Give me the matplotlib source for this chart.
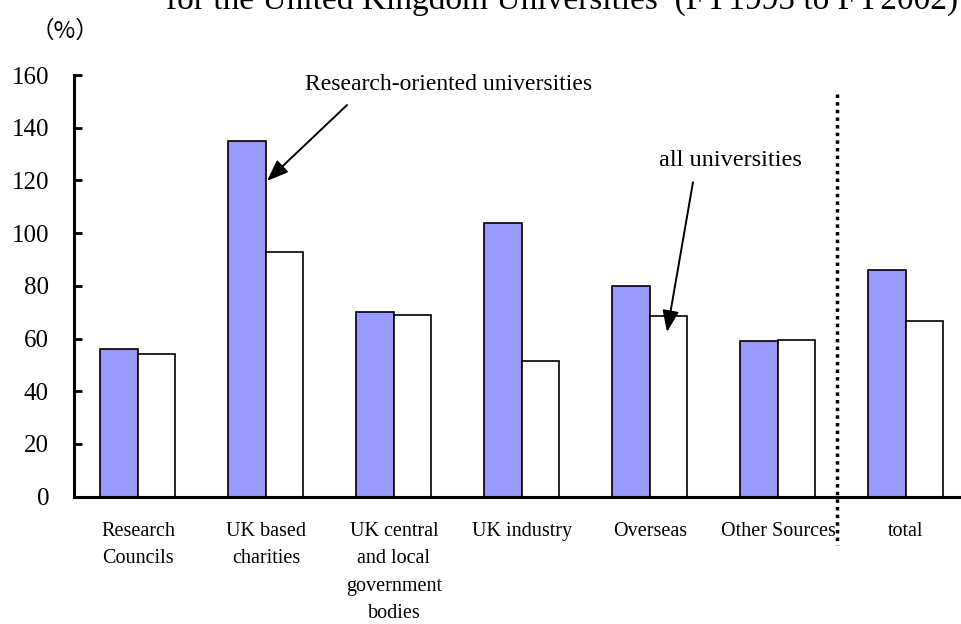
import numpy as np
import matplotlib.pyplot as plt
from matplotlib.transforms import blended_transform_factory

plt.rcParams['font.family'] = ['Liberation Serif', 'DejaVu Serif']

categories = ['Research\nCouncils', 'UK based\ncharities',
              'UK central\nand local\ngovernment\nbodies',
              'UK industry', 'Overseas', 'Other Sources', 'total']
research_oriented = [56, 135, 70, 104, 80, 59, 86]
all_universities = [54, 93, 69, 51.5, 68.5, 59.5, 66.5]

x = np.arange(len(categories))
w = 0.293

fig = plt.figure(figsize=(9.61, 6.24), dpi=100)
ax = fig.add_axes([74 / 961, 1 - 496.7 / 624, 1 - 74 / 961, (496.7 - 75) / 624])

ax.bar(x - w / 2, research_oriented, w, color='#9999ff', edgecolor='black', linewidth=1.2)
ax.bar(x + w / 2, all_universities, w, color='white', edgecolor='black', linewidth=1.2)

ax.set_xlim(-0.5, 6.43)
ax.set_ylim(0, 160)
ax.set_yticks(range(0, 161, 20))
ax.set_xticks(x)
ax.set_xticklabels(categories, fontsize=14.5, linespacing=1.6, va='top')

ax.spines['top'].set_visible(False)
ax.spines['right'].set_visible(False)
ax.spines['left'].set_linewidth(2.2)
ax.spines['bottom'].set_linewidth(2.2)
ax.tick_params(axis='y', direction='in', length=6, width=2, labelsize=18, pad=18)
ax.tick_params(axis='x', length=0, pad=18)

# dotted separator before the total
trans = blended_transform_factory(ax.transData, ax.transAxes)
ax.plot([5.46, 5.46], [0.955, -0.115], transform=trans, color='black',
        linestyle=(0, (1, 1.2)), linewidth=2.5, clip_on=False)

arrow = dict(arrowstyle='-|>,head_length=1.3,head_width=0.5',
             color='black', lw=1.4, shrinkA=0, shrinkB=0)
ax.text(2.43, 156.5, 'Research-oriented universities', fontsize=17,
        ha='center', va='center')
ax.annotate('', xy=(1.008, 119.8), xytext=(1.633, 148.6), arrowprops=arrow)
ax.text(4.625, 127.7, 'all universities', fontsize=17.5, ha='center', va='center')
ax.annotate('', xy=(4.133, 62.5), xytext=(4.336, 119.3), arrowprops=arrow)

fig.text(0.585, 1.0, 'for the United Kingdom Universities  (FY1995 to FY2002)',
         fontsize=24, ha='center', va='center')
fig.text(0.032, 0.95, '（%）', fontsize=17, ha='left', va='center',
         family=['Noto Sans CJK JP', 'DejaVu Sans'])

fig.savefig('out.png', dpi=100)
